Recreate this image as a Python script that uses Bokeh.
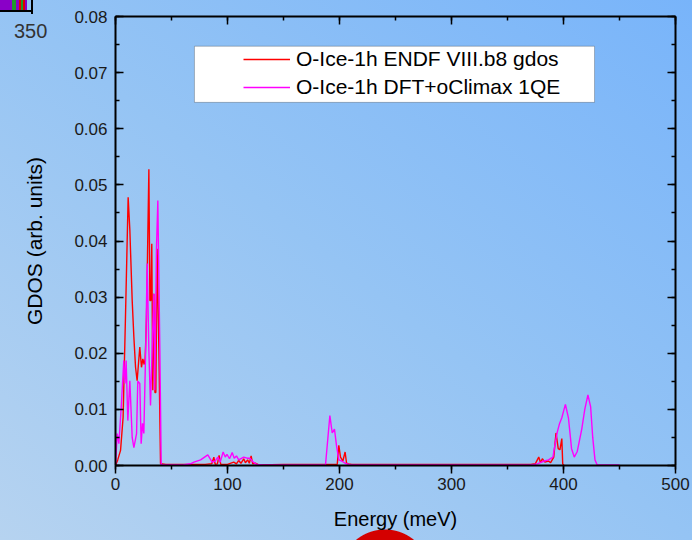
from bokeh.plotting import figure
from bokeh.models import (Range1d, LinearAxis, SingleIntervalTicker, NumeralTickFormatter,
                          Legend, LegendItem, BoxAnnotation, InlineStyleSheet)
from bokeh.embed import file_html
from bokeh.resources import INLINE

# ---------------- data ----------------
endf_energy = [0, 2, 4.5, 6.8, 8.9, 11.3, 12.8, 14.9, 16.4, 17.9, 19.3, 21.7, 23.2, 24.4, 25.6,
               26.5, 27.7, 29.8, 30.7, 31.5, 32.4, 33.3, 34.2, 35.2, 36.0, 37.2, 38.7, 40.2,
               45, 60, 80, 86, 87.8, 89, 91, 92.5, 94, 100, 105.6, 108, 110, 112, 114.5, 116,
               118, 119.5, 121.1, 122.5, 124.8, 128, 150, 190, 198, 199.4, 200.9, 203, 205,
               206.3, 208, 211, 250, 300, 350, 370.8, 374.8, 377.9, 379.5, 381.1, 383.4,
               386.6, 388.5, 391.3, 393.3, 395.3, 396.8, 398.5, 399.3, 400.4]
endf_gdos = [0, 0.001, 0.0027, 0.0086, 0.0264, 0.0478, 0.042, 0.0294, 0.0229, 0.0175, 0.0151,
             0.0211, 0.0175, 0.019, 0.018, 0.019, 0.0264, 0.0528, 0.0294, 0.0294, 0.0395,
             0.0134, 0.0306, 0.013, 0.013, 0.0386, 0.021, 0.0003,
             0.0002, 0.0002, 0.0002, 0.0003, 0.0015, 0.0002, 0.0003, 0.0018, 0.0002, 0.0002,
             0.0006, 0.0003, 0.0009, 0.0004, 0.0012, 0.0005, 0.001, 0.0004, 0.0017, 0.0003,
             0.0004, 0.0001, 0.0002, 0.0002, 0.0002, 0.0036, 0.0015, 0.0008, 0.0024, 0.0004,
             0.0003, 0.0002, 0.0002, 0.0002, 0.0002, 0.0002, 0.0003, 0.0015, 0.0005, 0.0012,
             0.0006, 0.0008, 0.0005, 0.0015, 0.0058, 0.003, 0.0028, 0.0048, 0.0003, 0.0]

dft_energy = [0, 1.5, 3, 5, 7.4, 8.5, 9.5, 11, 12.8, 14.9, 16.4, 18.8, 19.9, 21.7, 22.9, 24.1,
              25.3, 26.8, 28.3, 29.8, 31.25, 32.7, 34.2, 35.1, 36.6, 37.8, 39.6, 40.8,
              50, 60, 67, 70, 76, 82.4, 86.3, 89, 91.4, 93.5, 96.1, 98, 99.5, 101.8, 104.2,
              106, 108, 110, 114.5, 117.5, 120, 123, 126, 132, 187.5, 191.4, 193.5, 195.5,
              197.3, 199.4, 202, 205, 209.5, 250, 300, 350, 370.8, 376.7, 382.7, 386.6,
              390.6, 392.6, 394.5, 396.5, 398.5, 401.7, 404.4, 407.2, 409.6, 412.3, 416.3,
              419, 421.8, 424.2, 426.1, 428.1, 430.1, 450]
dft_gdos = [0, 0.0057, 0.0039, 0.01, 0.0187, 0.0146, 0.0187, 0.008, 0.0151, 0.005, 0.0032,
            0.0057, 0.015, 0.0146, 0.0039, 0.0075, 0.0057, 0.0193, 0.036, 0.0205, 0.0107,
            0.0205, 0.0306, 0.0134, 0.0389, 0.0472, 0.0205, 0.0001,
            0.0001, 0.0001, 0.0003, 0.0006, 0.001, 0.0019, 0.0006, 0.0008, 0.0015, 0.0006,
            0.0024, 0.0015, 0.002, 0.0012, 0.0023, 0.0013, 0.0017, 0.001, 0.0015, 0.0013,
            0.0013, 0.0006, 0.0002, 0.0001, 0.0001, 0.0089, 0.0058, 0.0065, 0.0036, 0.001,
            0.0008, 0.0004, 0.0001, 0.0001, 0.0001, 0.0001, 0.0001, 0.0003, 0.0008, 0.001,
            0.0015, 0.004, 0.006, 0.0075, 0.0085, 0.0109, 0.0085, 0.003, 0.0015, 0.0025,
            0.0065, 0.01, 0.0126, 0.0105, 0.005, 0.001, 0.0001, 0.0001]

series_names = ["O-Ice-1h ENDF VIII.b8 gdos", "O-Ice-1h DFT+oClimax 1QE"]
series_colors = ["#ff0000", "#ff00ff"]
corner_text = "350"

x_range = (0, 500)
y_range = (0, 0.08)

FONT = "Liberation Sans"

p = figure(width=692, height=540, output_backend="svg", toolbar_location=None,
           x_range=Range1d(*x_range), y_range=Range1d(*y_range),
           x_axis_location=None, y_axis_location=None,
           min_border_left=115, min_border_right=17, min_border_top=16, min_border_bottom=75)

p.background_fill_color = None
p.border_fill_color = None
p.outline_line_color = None
p.grid.visible = False
p.styles = {
    "background": ("radial-gradient(circle 46px at 385px 575px, #d40000 45px, rgba(212,0,0,0) 46px), "
                   "linear-gradient(#000,#000) 0px 10px / 33px 2px no-repeat, "
                   "linear-gradient(#000,#000) 31px 0px / 2px 14px no-repeat, "
                   "linear-gradient(to right, #8a00c8 0px 12px, #1f9a2a 12px 16px, #8a00c8 16px 19px, "
                   "#e00000 19px 21px, #1f9a2a 21px 23px, #e00000 23px 25px, #8a00c8 25px 27px, "
                   "rgba(0,0,0,0) 27px) 0px 0px / 31px 10px no-repeat, "
                   "linear-gradient(to top right, #b6d3f0 0%, #95c4f4 50%, #78b4fa 100%)")
}
# stray "350" text at the top-left corner of the picture
p.stylesheets = [InlineStyleSheet(css=(
    ":host::after { content: '%s'; position: absolute; left: 14px; top: 17px; "
    "font-family: 'Liberation Sans'; font-size: 20px; color: #333333; pointer-events: none; }"
    % corner_text))]

def style_axis(ax, labels=True, tick_in=8, tick_out=0, minor_in=4, minor_out=0):
    ax.axis_line_width = 2
    ax.axis_line_color = "black"
    ax.major_tick_line_width = 1.5
    ax.minor_tick_line_width = 1.5
    ax.major_tick_in = tick_in
    ax.major_tick_out = tick_out
    ax.minor_tick_in = minor_in
    ax.minor_tick_out = minor_out
    ax.major_label_text_font = FONT
    ax.major_label_text_font_size = "17px"
    ax.major_label_text_color = "#1a1a1a"
    ax.axis_label_text_font = FONT
    ax.axis_label_text_font_style = "normal"
    ax.axis_label_text_color = "black"
    if not labels:
        ax.major_label_text_font_size = "0px"
        ax.major_label_standoff = 0

xt = SingleIntervalTicker(interval=100, num_minor_ticks=2)
yt = SingleIntervalTicker(interval=0.01, num_minor_ticks=2)

bottom = LinearAxis(ticker=xt)
style_axis(bottom, tick_in=0, tick_out=8, minor_in=0, minor_out=4)
bottom.major_label_standoff = 4
bottom.axis_label = "Energy (meV)"
bottom.axis_label_text_font_size = "20px"
bottom.axis_label_standoff = 15
p.add_layout(bottom, "below")

left = LinearAxis(ticker=yt, formatter=NumeralTickFormatter(format="0.00"))
style_axis(left)
left.major_label_standoff = 8
left.axis_label = "GDOS (arb. units)"
left.axis_label_text_font_size = "21px"
left.axis_label_standoff = 25
p.add_layout(left, "left")

top = LinearAxis(ticker=xt)
style_axis(top, labels=False)
p.add_layout(top, "above")

right = LinearAxis(ticker=yt)
style_axis(right, labels=False)
p.add_layout(right, "right")

r1 = p.line(endf_energy, endf_gdos, line_color=series_colors[0], line_width=1.4)
r2 = p.line(dft_energy, dft_gdos, line_color=series_colors[1], line_width=1.4)

# legend frame
p.add_layout(BoxAnnotation(left=70.5, right=427.7, bottom=0.0647, top=0.0747,
                           fill_color="white", fill_alpha=1, line_color="#333333", line_width=1,
                           level="underlay"))

legend = Legend(items=[LegendItem(label=series_names[0], renderers=[r1]),
                       LegendItem(label=series_names[1], renderers=[r2])],
                location=(128, 366), background_fill_alpha=0, border_line_color=None,
                padding=0, margin=0, spacing=4, glyph_width=47, glyph_height=22,
                label_height=22, label_standoff=6,
                label_text_font=FONT, label_text_font_size="21px", label_text_color="black")
p.add_layout(legend)

open("out.html", "w").write(file_html(p, INLINE))
